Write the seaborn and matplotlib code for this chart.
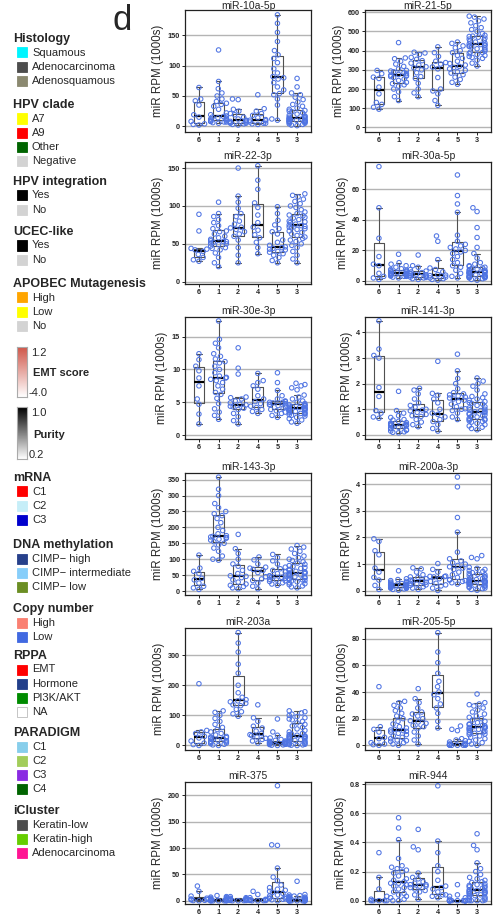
import numpy as np
import pandas as pd
import matplotlib
matplotlib.use("Agg")
import matplotlib.pyplot as plt
from matplotlib.patches import Rectangle
from matplotlib.colors import LinearSegmentedColormap
import seaborn as sns

# ---------------------------------------------------------------- data
groups = ["6", "1", "2", "4", "5", "3"]

mir_10a_5p = {
    "6": [2, 3, 4, 8, 15, 19, 35, 42, 45, 64],
    "1": [5, 6, 7, 7, 8, 8, 9, 10, 11, 12, 13, 14, 15, 16, 17, 19, 22, 28, 33, 36, 38,
          41, 45, 50, 55, 62, 74, 126],
    "2": [2, 3, 4, 5, 5, 6, 7, 8, 9, 10, 12, 15, 19, 21, 25, 28, 44, 45],
    "4": [3, 4, 5, 5, 7, 9, 10, 11, 14, 18, 21, 25, 29, 52],
    "5": [10, 12, 35, 45, 52, 54, 60, 65, 72, 78, 80, 82, 88, 95, 105, 112, 118, 125,
          140, 155, 170, 184],
    "3": [1, 2, 3, 4, 5, 6, 7, 7, 8, 8, 8, 9, 9, 10, 10, 11, 11, 12, 12, 12, 13, 14, 15,
          16, 17, 18, 20, 22, 24, 25, 26, 28, 30, 33, 36, 40, 44, 48, 52, 55, 65, 79],
}

mir_21_5p = {
    "6": [95, 105, 120, 130, 175, 210, 255, 262, 280, 297],
    "1": [140, 160, 185, 200, 215, 222, 228, 235, 245, 252, 260, 265, 268, 270, 272, 276,
          280, 285, 290, 294, 297, 305, 318, 330, 345, 358, 362, 442],
    "2": [160, 180, 200, 230, 255, 265, 285, 300, 310, 316, 325, 335, 348, 355, 365, 380,
          388, 392],
    "4": [115, 140, 175, 190, 200, 260, 305, 315, 330, 338, 345, 370, 390, 420],
    "5": [225, 235, 250, 262, 275, 283, 290, 298, 305, 312, 318, 325, 333, 345, 360, 375,
          390, 400, 415, 425, 438, 445],
    "3": [320, 335, 350, 360, 365, 370, 375, 380, 385, 390, 392, 398, 405, 410, 415, 420,
          422, 425, 428, 430, 432, 435, 440, 445, 450, 455, 460, 465, 470, 474, 476, 480,
          490, 500, 510, 520, 530, 545, 555, 565, 575, 580],
}

mir_22_3p = {
    "6": [27, 29, 32, 36, 40, 42, 43, 44, 67, 89],
    "1": [20, 25, 32, 38, 42, 44, 45, 47, 49, 50, 51, 52, 53, 53, 54, 56, 58, 60, 63, 66,
          67, 70, 74, 78, 82, 86, 90, 105],
    "2": [25, 35, 45, 55, 60, 63, 66, 69, 71, 72, 76, 80, 86, 90, 97, 105, 113, 150],
    "4": [37, 45, 52, 58, 62, 68, 72, 78, 88, 98, 104, 122, 134, 153],
    "5": [25, 28, 32, 35, 37, 39, 40, 42, 43, 44, 45, 46, 48, 52, 55, 63, 66, 70, 75, 81,
          90, 99],
    "3": [25, 30, 35, 40, 45, 48, 50, 53, 55, 57, 59, 61, 63, 65, 67, 69, 70, 71, 72, 73,
          74, 75, 76, 78, 79, 80, 82, 84, 85, 87, 88, 90, 92, 95, 98, 100, 103, 106, 109,
          112, 114, 116],
}

mir_30a_5p = {
    "6": [1, 2, 3, 5, 10, 11, 16, 28, 48, 75],
    "1": [2, 2.5, 3, 3, 3.2, 3.5, 3.6, 3.8, 4, 4.2, 4.5, 4.7, 4.9, 5, 5.2, 5.5, 5.8, 6,
          6.3, 6.7, 7, 7.5, 8, 9, 10, 11, 12, 17.5],
    "2": [1, 1.5, 2, 2.3, 2.5, 3, 3.5, 4, 4.4, 4.6, 5, 5.5, 5.9, 6.5, 7.5, 9, 10, 17],
    "4": [0.5, 1, 1.5, 2, 2.5, 3.5, 3.8, 4.2, 6, 7.5, 8.5, 14, 26, 29.5],
    "5": [2, 3, 5, 7, 9, 10, 12, 14, 16, 18, 19, 20, 21, 22, 23, 24, 26, 30, 45, 50.5,
          56, 69.5],
    "3": [0.5, 1, 1.5, 2, 2, 2.3, 2.5, 2.7, 2.8, 3, 3, 3.3, 3.6, 4, 4.2, 4.5, 4.8, 5, 5.2,
          5.4, 5.5, 5.7, 6, 6.3, 6.6, 7, 7.3, 7.7, 8, 8.5, 9, 9.5, 10, 11, 12, 15, 18, 22,
          28.5, 35, 45.5, 48],
}

mir_30e_3p = {
    "6": [1.7, 3.2, 4.7, 5.5, 7.5, 8.7, 9.8, 10.5, 11.5, 12.4],
    "1": [2.4, 3, 3.5, 4, 4.8, 5.6, 6.2, 6.5, 7, 7.5, 8, 8.3, 8.5, 8.7, 8.8, 9, 9.5, 10,
          10.5, 11, 11.2, 11.6, 12, 12.4, 13.3, 14, 14.6, 17.4],
    "2": [1.7, 2.2, 2.8, 3.3, 3.9, 4.1, 4.3, 4.4, 4.6, 4.7, 4.9, 5.2, 5.5, 5.7, 5.8, 9.3,
          10.2, 13.3],
    "4": [3.3, 3.6, 3.9, 4.2, 4.4, 4.8, 5.1, 5.5, 6, 7, 7.5, 8, 8.3, 9.4],
    "5": [2.7, 3, 3.3, 3.5, 3.7, 3.9, 4.1, 4.3, 4.5, 4.6, 4.7, 4.8, 4.9, 5, 5, 5.1, 5.2,
          5.5, 6, 6.8, 8, 9.5],
    "3": [1.8, 2, 2.3, 2.5, 2.7, 2.9, 3, 3.1, 3.2, 3.3, 3.3, 3.4, 3.5, 3.6, 3.7, 3.7, 3.8,
          3.9, 3.9, 4, 4, 4.1, 4.1, 4.2, 4.2, 4.3, 4.4, 4.4, 4.5, 4.6, 4.6, 4.8, 5, 5.2,
          5.5, 5.8, 6.1, 6.9, 7.2, 7.5, 7.7, 7.9],
}

mir_141_3p = {
    "6": [0.65, 0.7, 0.85, 0.95, 1.5, 1.85, 3.0, 3.1, 3.35, 4.45],
    "1": [0.08, 0.1, 0.12, 0.15, 0.18, 0.2, 0.24, 0.27, 0.3, 0.32, 0.34, 0.36, 0.37, 0.38,
          0.39, 0.4, 0.42, 0.44, 0.46, 0.48, 0.53, 0.58, 0.6, 0.68, 0.75, 0.85, 0.95, 1.7],
    "2": [0.32, 0.4, 0.5, 0.6, 0.72, 0.75, 0.8, 0.88, 0.94, 0.97, 1.0, 1.08, 1.15, 1.25,
          1.4, 1.6, 1.75, 1.82],
    "4": [0.15, 0.25, 0.4, 0.52, 0.6, 0.7, 0.8, 0.85, 1.0, 1.25, 1.4, 1.55, 1.62, 2.87],
    "5": [0.6, 0.7, 0.85, 0.95, 1.0, 1.02, 1.1, 1.2, 1.3, 1.35, 1.4, 1.44, 1.48, 1.52,
          1.56, 1.6, 1.65, 1.8, 2.0, 2.2, 2.5, 3.15],
    "3": [0.2, 0.25, 0.3, 0.35, 0.4, 0.45, 0.5, 0.52, 0.55, 0.58, 0.6, 0.62, 0.65, 0.7,
          0.72, 0.75, 0.78, 0.8, 0.84, 0.87, 0.9, 0.92, 0.95, 0.98, 1.0, 1.05, 1.1, 1.15,
          1.2, 1.23, 1.26, 1.3, 1.35, 1.4, 1.45, 1.5, 1.6, 1.75, 1.9, 2.0, 2.1, 2.22],
}

mir_143_3p = {
    "6": [5, 10, 15, 25, 35, 40, 55, 62, 72, 113],
    "1": [97, 100, 110, 125, 135, 145, 150, 155, 160, 163, 166, 168, 170, 172, 174, 180,
          190, 200, 215, 228, 237, 243, 250, 262, 275, 300, 320, 358],
    "2": [7, 10, 14, 18, 22, 28, 35, 42, 46, 48, 55, 65, 78, 85, 100, 118, 133, 178],
    "4": [7, 15, 25, 33, 38, 45, 58, 65, 68, 72, 75, 85, 98, 107],
    "5": [18, 22, 26, 30, 32, 35, 37, 40, 43, 45, 47, 48, 50, 55, 60, 65, 70, 75, 85, 95,
          105, 115],
    "3": [10, 13, 16, 20, 23, 26, 29, 31, 33, 35, 37, 39, 41, 43, 45, 47, 49, 51, 53, 55,
          57, 58, 60, 62, 65, 68, 71, 74, 77, 80, 84, 88, 92, 96, 100, 105, 110, 118, 125,
          132, 138, 143],
}

mir_200a_3p = {
    "6": [0.05, 0.2, 0.4, 0.5, 0.7, 0.85, 1.35, 1.5, 1.85, 1.95],
    "1": [0.02, 0.05, 0.07, 0.09, 0.1, 0.11, 0.12, 0.13, 0.14, 0.16, 0.17, 0.18, 0.19,
          0.2, 0.21, 0.22, 0.23, 0.24, 0.25, 0.27, 0.28, 0.3, 0.32, 0.35, 0.38, 0.42, 0.45,
          0.75],
    "2": [0.05, 0.1, 0.15, 0.2, 0.22, 0.25, 0.28, 0.32, 0.35, 0.37, 0.4, 0.45, 0.5, 0.52,
          0.6, 0.7, 0.82, 0.86],
    "4": [0.01, 0.1, 0.18, 0.22, 0.28, 0.35, 0.45, 0.52, 0.53, 0.54, 0.55, 0.7, 0.8, 1.02],
    "5": [0.25, 0.3, 0.35, 0.38, 0.4, 0.42, 0.5, 0.6, 0.7, 0.8, 0.85, 0.9, 0.95, 1.0,
          1.05, 1.12, 1.2, 1.45, 2.2, 2.75, 3.9, 4.27],
    "3": [0.02, 0.05, 0.08, 0.1, 0.12, 0.15, 0.17, 0.19, 0.21, 0.23, 0.25, 0.26, 0.27,
          0.28, 0.3, 0.31, 0.32, 0.33, 0.34, 0.35, 0.36, 0.38, 0.4, 0.42, 0.44, 0.46, 0.48,
          0.5, 0.53, 0.56, 0.6, 0.62, 0.65, 0.68, 0.72, 0.76, 0.8, 0.84, 0.88, 1.2, 1.25,
          1.32],
}

mir_203a = {
    "6": [0, 3, 8, 15, 25, 30, 40, 45, 50, 205],
    "1": [0, 2, 4, 6, 8, 10, 12, 14, 16, 18, 20, 22, 24, 25, 26, 28, 30, 35, 40, 45, 53,
          60, 70, 80, 90, 100, 110, 115],
    "2": [97, 105, 112, 120, 132, 135, 140, 145, 148, 152, 160, 175, 200, 240, 270, 310,
          340, 375],
    "4": [8, 15, 20, 24, 28, 33, 36, 40, 48, 58, 64, 80, 92, 135],
    "5": [0, 1, 2, 3, 4, 4, 5, 6, 7, 8, 9, 10, 11, 12, 14, 15, 17, 20, 25, 34, 45, 88],
    "3": [0, 1, 2, 3, 4, 5, 7, 9, 11, 13, 15, 17, 19, 21, 23, 25, 27, 28, 30, 31, 32, 34,
          36, 38, 40, 45, 50, 55, 60, 65, 70, 75, 80, 85, 88, 92, 96, 100, 104, 108, 112,
          115],
}

mir_205_5p = {
    "6": [0, 0.5, 1, 2, 5, 6, 10, 12, 14, 44],
    "1": [0, 1, 2, 3, 3.5, 4, 5, 6, 7, 8, 9, 10, 10.5, 11, 11.5, 12, 13, 14, 16, 18, 20,
          22, 24, 26, 28, 30, 32, 33],
    "2": [1, 4, 7, 10, 13, 14, 15, 16.5, 17.5, 18.5, 20, 22, 23.5, 25, 28, 32, 35, 42.5],
    "4": [13, 18, 24, 28, 31, 35, 38, 40, 44, 48, 54, 62, 70, 84.5],
    "5": [0, 0, 0.1, 0.2, 0.2, 0.3, 0.3, 0.4, 0.5, 0.5, 0.6, 0.7, 0.8, 1, 1.5, 2.5, 3.5,
          4, 5, 11, 12, 14.5],
    "3": [0, 1, 2, 3, 4, 5, 6, 7, 8, 8.5, 9, 9.5, 10, 10.5, 11, 11.5, 12, 12.5, 13, 13.2,
          13.4, 13.6, 14, 14.5, 15, 15.5, 16, 17, 18, 19, 20, 21, 22, 23.5, 25, 26.5, 28,
          29.5, 30.5, 31, 32, 38.5],
}

mir_375 = {
    "6": [0, 0.5, 1, 2, 2.5, 3.5, 5, 9, 18, 28],
    "1": [0, 0, 0.1, 0.2, 0.3, 0.4, 0.5, 0.6, 0.7, 0.8, 0.9, 1, 1.1, 1.2, 1.3, 1.5, 1.7,
          2, 2.3, 2.6, 3, 3.5, 4, 5, 6, 7, 8, 10],
    "2": [0, 0.2, 0.4, 0.6, 0.8, 1, 1.2, 1.5, 1.8, 2, 2.3, 2.6, 3, 3.5, 4, 5, 6, 8],
    "4": [0, 0.2, 0.4, 0.6, 0.8, 1, 1.2, 1.5, 2, 2.5, 3, 6, 12, 18],
    "5": [0, 2, 3, 4, 5, 5, 7, 9, 11, 14, 16, 18, 20, 22, 25, 30, 38, 45, 62, 105, 106,
          218],
    "3": [0, 0, 0, 0.1, 0.1, 0.2, 0.2, 0.3, 0.3, 0.4, 0.5, 0.5, 0.6, 0.7, 0.8, 0.9, 1,
          1.1, 1.2, 1.4, 1.6, 1.8, 2, 2.2, 2.4, 2.6, 2.8, 3, 3.3, 3.6, 4, 4.5, 5, 5.5, 6, 7,
          8, 9, 10, 11, 12, 37],
}

mir_944 = {
    "6": [0, 0, 0, 0, 0, 0.01, 0.03, 0.08, 0.16, 0.33],
    "1": [0, 0, 0.01, 0.02, 0.03, 0.04, 0.05, 0.06, 0.08, 0.09, 0.1, 0.11, 0.12, 0.12,
          0.13, 0.14, 0.15, 0.17, 0.19, 0.2, 0.21, 0.22, 0.23, 0.24, 0.29, 0.42, 0.5, 0.57],
    "2": [0.01, 0.04, 0.06, 0.07, 0.08, 0.09, 0.1, 0.1, 0.11, 0.11, 0.12, 0.13, 0.15,
          0.16, 0.19, 0.35, 0.37, 0.49],
    "4": [0.02, 0.03, 0.04, 0.04, 0.06, 0.08, 0.09, 0.1, 0.14, 0.2, 0.24, 0.33, 0.41, 0.79],
    "5": [0, 0, 0, 0, 0, 0, 0, 0, 0, 0, 0, 0, 0, 0, 0, 0, 0, 0.01, 0.02, 0.03, 0.04, 0.11],
    "3": [0, 0, 0, 0, 0.005, 0.01, 0.015, 0.02, 0.025, 0.03, 0.035, 0.04, 0.045, 0.05,
          0.05, 0.055, 0.06, 0.06, 0.065, 0.07, 0.07, 0.075, 0.08, 0.085, 0.09, 0.095, 0.1,
          0.105, 0.11, 0.115, 0.125, 0.13, 0.14, 0.15, 0.16, 0.18, 0.2, 0.22, 0.26, 0.35,
          0.38, 0.46],
}

panel_titles = ["miR-10a-5p", "miR-21-5p", "miR-22-3p", "miR-30a-5p", "miR-30e-3p",
                "miR-141-3p", "miR-143-3p", "miR-200a-3p", "miR-203a", "miR-205-5p",
                "miR-375", "miR-944"]
panel_data = [mir_10a_5p, mir_21_5p, mir_22_3p, mir_30a_5p, mir_30e_3p, mir_141_3p,
              mir_143_3p, mir_200a_3p, mir_203a, mir_205_5p, mir_375, mir_944]
panel_ticks = [[0, 50, 100, 150], [0, 100, 200, 300, 400, 500, 600], [0, 50, 100, 150],
               [0, 20, 40, 60], [0, 5, 10, 15], [0, 1, 2, 3, 4],
               [0, 50, 100, 150, 200, 250, 300, 350], [0, 1, 2, 3, 4], [0, 100, 200, 300],
               [0, 20, 40, 60, 80], [0, 50, 100, 150, 200], [0, 0.2, 0.4, 0.6, 0.8]]
panel_ylims = [(-9.5, 192), (-24, 612), (-3, 158), (-2, 78), (-0.6, 18), (-0.16, 4.6),
               (-12.5, 371), (-0.16, 4.42), (-15, 390), (-3.5, 88), (-6, 225),
               (-0.023, 0.816)]

# legend content
legend_blocks = [
    ("Histology", ["Squamous", "Adenocarcinoma", "Adenosquamous"],
     ["#00F5FF", "#4D4D4D", "#8B8970"]),
    ("HPV clade", ["A7", "A9", "Other", "Negative"],
     ["#FFFF00", "#FF0000", "#006400", "#D3D3D3"]),
    ("HPV integration", ["Yes", "No"], ["#000000", "#D3D3D3"]),
    ("UCEC-like", ["Yes", "No"], ["#000000", "#D3D3D3"]),
    ("APOBEC Mutagenesis", ["High", "Low", "No"], ["#FFA500", "#FFFF00", "#D3D3D3"]),
    ("mRNA", ["C1", "C2", "C3"], ["#FF0000", "#C6EEF8", "#0000CD"]),
    ("DNA methylation", ["CIMP\u2212 high", "CIMP\u2212 intermediate", "CIMP\u2212 low"],
     ["#27408B", "#87CEFA", "#6B8E23"]),
    ("Copy number", ["High", "Low"], ["#FA8072", "#4169E1"]),
    ("RPPA", ["EMT", "Hormone", "PI3K/AKT", "NA"],
     ["#FF0000", "#223F8A", "#008B00", "#FFFFFF"]),
    ("PARADIGM", ["C1", "C2", "C3", "C4"], ["#87CEEB", "#A2CD5A", "#8A2BE2", "#006400"]),
    ("iCluster", ["Keratin-low", "Keratin-high", "Adenocarcinoma"],
     ["#4D4D4D", "#66CD00", "#FF1493"]),
]
emt_range = ("1.2", "-4.0")
purity_range = ("1.0", "0.2")

# ---------------------------------------------------------------- style
sns.set_style("white")
plt.rcParams["font.family"] = ["Liberation Sans", "DejaVu Sans"]

W, H = 501, 922
fig = plt.figure(figsize=(W / 100, H / 100), dpi=100)


def fx(x):
    return x / W


def fy(y):
    return 1 - y / H


point_color = "#4f74e3"
box_color = "#505050"

col_left = [185, 365]
row_top = [10, 162, 317, 473, 628, 782]
ax_w, ax_h = 126, 122

for i, (title, data) in enumerate(zip(panel_titles, panel_data)):
    r, c = divmod(i, 2)
    x0, y0 = col_left[c], row_top[r]
    ax = fig.add_axes([fx(x0), fy(y0 + ax_h), ax_w / W, ax_h / H])
    df = pd.DataFrame([(g, v) for g in groups for v in data[g]],
                      columns=["group", "rpm"])

    sns.boxplot(data=df, x="group", y="rpm", order=groups, ax=ax, fill=False,
                color=box_color, linewidth=0.8, width=0.55, showfliers=False,
                whis=1.5, medianprops=dict(color="black", linewidth=1.6))
    sns.swarmplot(data=df, x="group", y="rpm", order=groups, ax=ax,
                  color=point_color, size=3.2, warn_thresh=1)
    for coll in ax.collections:
        coll.set_facecolor("none")
        coll.set_edgecolor(point_color)
        coll.set_linewidth(0.75)

    ax.set_xlim(-0.71, 5.71)
    ax.set_ylim(*panel_ylims[i])
    ax.set_yticks(panel_ticks[i])
    ax.yaxis.grid(True, color="#b4b4b4", linewidth=1.0)
    ax.xaxis.grid(False)
    ax.set_axisbelow(True)
    for sp in ax.spines.values():
        sp.set_visible(True)
        sp.set_color("#222222")
        sp.set_linewidth(0.9)
    ax.tick_params(axis="both", which="major", length=2, width=0.7, pad=1.5,
                   labelsize=5.2, color="#222222", left=True, bottom=True)
    for lab in ax.get_xticklabels() + ax.get_yticklabels():
        lab.set_fontweight("bold")
    ax.set_xlabel("")
    ax.set_ylabel("miR RPM (1000s)", fontsize=8.3, labelpad=2.5)
    ax.set_title(title, fontsize=7.5, pad=0.6 if r == 0 else 2)

# panel letter
fig.text(fx(113), fy(21), "d", fontsize=25, va="center", ha="left")

# ---------------------------------------------------------------- legend
title_y = [39, 105, 182, 232, 284, 478, 545, 609, 656, 733, 811]
step = 14.2
for (title, labels, colors), ty in zip(legend_blocks, title_y):
    fig.text(fx(13), fy(ty), title, fontsize=9.0, fontweight="bold",
             va="center", ha="left")
    for k, (lab, col) in enumerate(zip(labels, colors)):
        yc = ty + 13.5 + k * step
        edge = "#bbbbbb" if col.upper() == "#FFFFFF" else col
        fig.add_artist(Rectangle((fx(17), fy(yc + 5)), 10 / W, 10 / H,
                                 facecolor=col, edgecolor=edge, linewidth=0.6,
                                 transform=fig.transFigure))
        fig.text(fx(32), fy(yc), lab, fontsize=8.0, va="center", ha="left")


def gradient_bar(y_top, y_bot, cmap, hi, lo, name, name_y):
    cax = fig.add_axes([fx(17), fy(y_bot), 10 / W, (y_bot - y_top) / H])
    cax.imshow(np.linspace(1, 0, 120)[:, None], cmap=cmap, aspect="auto",
               vmin=0, vmax=1)
    cax.set_xticks([])
    cax.set_yticks([])
    for sp in cax.spines.values():
        sp.set_color("#aaaaaa")
        sp.set_linewidth(0.8)
    fig.text(fx(31), fy(y_top + 6), hi, fontsize=8.0, va="center", ha="left")
    fig.text(fx(28.5), fy(y_bot - 4), lo, fontsize=8.0, va="center", ha="left")
    fig.text(fx(33), fy(name_y), name, fontsize=8.0, fontweight="bold",
             va="center", ha="left")


emt_cmap = LinearSegmentedColormap.from_list("emt", ["#ffffff", "#cf5346"])
purity_cmap = LinearSegmentedColormap.from_list("purity", ["#ffffff", "#000000"])
gradient_bar(347, 397, emt_cmap, emt_range[0], emt_range[1], "EMT score", 373)
gradient_bar(407, 459, purity_cmap, purity_range[0], purity_range[1], "Purity", 435)

fig.savefig("out.png", dpi=100)
